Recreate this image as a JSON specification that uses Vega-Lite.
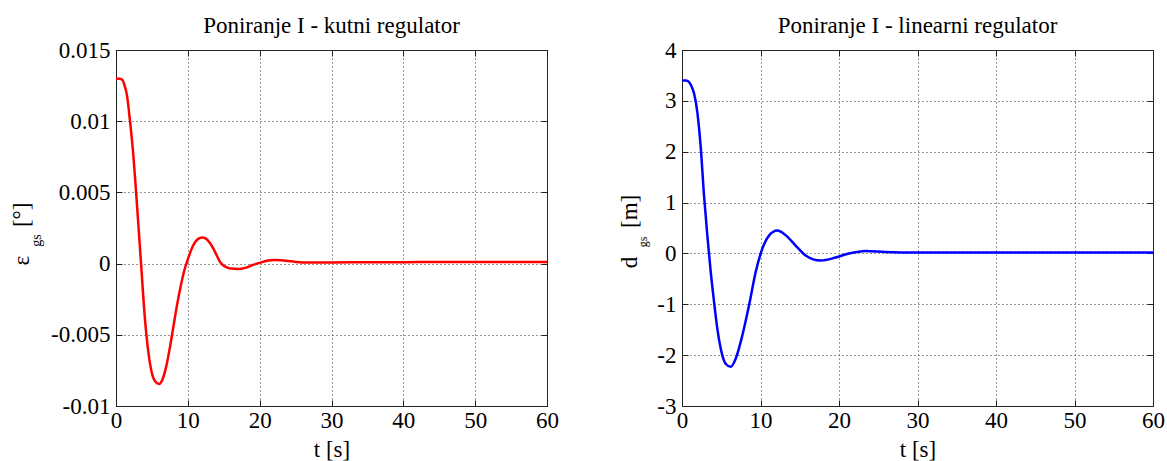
{
  "$schema": "https://vega.github.io/schema/vega-lite/v6.json",
  "autosize": {"type": "pad"},
  "padding": {"left": 10, "top": 14, "right": 5, "bottom": 5},
  "background": "white",
  "bounds": "flush",
  "spacing": 135,
  "config": {
    "font": "Liberation Serif",
    "view": {"stroke": "#222", "strokeWidth": 1},
    "axis": {
      "labelFont": "Liberation Serif", "labelFontSize": 23, "labelColor": "#000",
      "titleFont": "Liberation Serif", "titleFontSize": 23, "titleFontWeight": "normal", "titleColor": "#000",
      "domainColor": "#222", "tickColor": "#222", "tickSize": -6, "labelFlush": false,
      "gridColor": "#333", "gridDash": [1, 3], "gridOpacity": 1, "gridWidth": 1
    },
    "axisX": {"labelPadding": 9.5, "labelFlush": false},
    "axisY": {"labelPadding": 12, "labelFlush": false},
    "title": {"font": "Liberation Serif", "fontSize": 23, "fontWeight": "normal", "color": "#000", "frame": "group", "baseline": "alphabetic", "offset": 1}
  },
  "hconcat": [
    {
      "title": "Poniranje I - kutni regulator",
      "width": 431, "height": 356,
      "data": {"values": [
        {"t": 0, "v": 0.0130}, {"t": 0.5, "v": 0.01298}, {"t": 0.9, "v": 0.0129}, {"t": 1.2, "v": 0.0125},
        {"t": 1.5, "v": 0.0119}, {"t": 1.95, "v": 0.0100}, {"t": 2.4, "v": 0.0077}, {"t": 2.8, "v": 0.0050},
        {"t": 3.2, "v": 0.0021}, {"t": 3.5, "v": -0.0001}, {"t": 4, "v": -0.0037}, {"t": 4.5, "v": -0.0062},
        {"t": 5, "v": -0.0077}, {"t": 5.5, "v": -0.0083}, {"t": 6, "v": -0.00845}, {"t": 6.5, "v": -0.0081},
        {"t": 7, "v": -0.0072}, {"t": 7.5, "v": -0.0059}, {"t": 8, "v": -0.0044}, {"t": 8.5, "v": -0.0029},
        {"t": 9, "v": -0.0016}, {"t": 9.5, "v": -0.0005}, {"t": 10, "v": 0.0003}, {"t": 10.5, "v": 0.0010},
        {"t": 11, "v": 0.0015}, {"t": 11.5, "v": 0.00175}, {"t": 12, "v": 0.00183}, {"t": 12.5, "v": 0.00175},
        {"t": 13, "v": 0.0015}, {"t": 13.5, "v": 0.0011}, {"t": 14, "v": 0.0006}, {"t": 14.5, "v": 0.0001},
        {"t": 15, "v": -0.00015}, {"t": 15.5, "v": -0.00028}, {"t": 16, "v": -0.00035}, {"t": 17, "v": -0.00038},
        {"t": 18, "v": -0.0003}, {"t": 19, "v": -0.0001}, {"t": 20, "v": 0.00005}, {"t": 21, "v": 0.0002},
        {"t": 22, "v": 0.00026}, {"t": 23, "v": 0.00024}, {"t": 24, "v": 0.00018}, {"t": 25, "v": 0.00012},
        {"t": 27, "v": 0.00008}, {"t": 30, "v": 0.00008}, {"t": 35, "v": 0.0001}, {"t": 40, "v": 0.0001},
        {"t": 45, "v": 0.00012}, {"t": 50, "v": 0.00012}, {"t": 55, "v": 0.00012}, {"t": 60, "v": 0.00012}
      ]},
      "resolve": {"axis": {"x": "independent", "y": "independent"}},
      "layer": [
        {
          "mark": {"type": "line", "color": "#ff0000", "strokeWidth": 2.5, "interpolate": "monotone", "clip": true},
          "encoding": {
            "x": {"field": "t", "type": "quantitative", "scale": {"domain": [0, 60], "nice": false},
                  "axis": {"values": [0, 10, 20, 30, 40, 50, 60], "title": "t [s]", "titleY": 43, "titleBaseline": "middle", "grid": true, "labelFlush": false, "labelExpr": "'' + datum.value"}},
            "y": {"field": "v", "type": "quantitative", "scale": {"domain": [-0.01, 0.015], "nice": false, "zero": false},
                  "axis": {"values": [-0.01, -0.005, 0, 0.005, 0.01, 0.015], "title": "ε\u00a0\u00a0\u00a0\u00a0\u00a0[°]", "titleX": -94.5, "titleY": 183.5, "titleBaseline": "middle", "titleAlign": "center", "grid": true, "labelFlush": false, "labelExpr": "'' + datum.value"}}
          }
        },
        {
          "mark": {"type": "line", "opacity": 0},
          "encoding": {
            "x": {"field": "t", "type": "quantitative", "axis": {"orient": "top", "values": [0, 10, 20, 30, 40, 50, 60], "labels": false, "title": null, "grid": false, "domain": false}},
            "y": {"field": "v", "type": "quantitative", "axis": {"orient": "right", "values": [-0.01, -0.005, 0, 0.005, 0.01, 0.015], "labels": false, "title": null, "grid": false, "domain": false}}
          }
        },
        {
          "mark": {"type": "line", "opacity": 0},
          "encoding": {
            "x": {"field": "t", "type": "quantitative", "axis": null},
            "y": {"field": "v", "type": "quantitative", "axis": {"orient": "left", "labels": false, "ticks": false, "grid": false, "domain": false, "title": "gs", "titleFontSize": 14, "titleX": -75.5, "titleY": 190, "titleBaseline": "alphabetic", "titleAlign": "center"}}
          }
        }
      ]
    },
    {
      "title": "Poniranje I - linearni regulator",
      "width": 471, "height": 356,
      "data": {"values": [
        {"t": 0, "v": 3.40}, {"t": 0.5, "v": 3.40}, {"t": 0.9, "v": 3.37}, {"t": 1.2, "v": 3.29},
        {"t": 1.53, "v": 3.15}, {"t": 1.95, "v": 2.78}, {"t": 2.38, "v": 2.1}, {"t": 2.8, "v": 1.15},
        {"t": 3.23, "v": 0.35}, {"t": 3.65, "v": -0.35}, {"t": 4.08, "v": -0.95}, {"t": 4.5, "v": -1.48},
        {"t": 4.93, "v": -1.87}, {"t": 5.56, "v": -2.17}, {"t": 6.2, "v": -2.23}, {"t": 6.84, "v": -2.07},
        {"t": 7.69, "v": -1.61}, {"t": 8.54, "v": -1.02}, {"t": 9.38, "v": -0.37}, {"t": 10.2, "v": 0.08},
        {"t": 11.08, "v": 0.35}, {"t": 12.14, "v": 0.45}, {"t": 13.2, "v": 0.36}, {"t": 14.5, "v": 0.15},
        {"t": 15.75, "v": -0.04}, {"t": 17.67, "v": -0.14}, {"t": 19.58, "v": -0.08}, {"t": 21.27, "v": 0.0},
        {"t": 23.4, "v": 0.05}, {"t": 25.9, "v": 0.03}, {"t": 30, "v": 0.02}, {"t": 40, "v": 0.02},
        {"t": 50, "v": 0.02}, {"t": 60, "v": 0.02}
      ]},
      "resolve": {"axis": {"x": "independent", "y": "independent"}},
      "layer": [
        {
          "mark": {"type": "line", "color": "#0000ff", "strokeWidth": 2.5, "interpolate": "monotone", "clip": true},
          "encoding": {
            "x": {"field": "t", "type": "quantitative", "scale": {"domain": [0, 60], "nice": false},
                  "axis": {"values": [0, 10, 20, 30, 40, 50, 60], "title": "t [s]", "titleY": 43, "titleBaseline": "middle", "grid": true, "labelFlush": false, "labelExpr": "'' + datum.value"}},
            "y": {"field": "v", "type": "quantitative", "scale": {"domain": [-3, 4], "nice": false, "zero": false},
                  "axis": {"values": [-3, -2, -1, 0, 1, 2, 3, 4], "title": "d\u00a0\u00a0\u00a0\u00a0\u00a0[m]", "titleX": -53, "titleY": 181, "titleBaseline": "middle", "titleAlign": "center", "grid": true, "labelFlush": false, "labelExpr": "'' + datum.value"}}
          }
        },
        {
          "mark": {"type": "line", "opacity": 0},
          "encoding": {
            "x": {"field": "t", "type": "quantitative", "axis": {"orient": "top", "values": [0, 10, 20, 30, 40, 50, 60], "labels": false, "title": null, "grid": false, "domain": false}},
            "y": {"field": "v", "type": "quantitative", "axis": {"orient": "right", "values": [-3, -2, -1, 0, 1, 2, 3, 4], "labels": false, "title": null, "grid": false, "domain": false}}
          }
        },
        {
          "mark": {"type": "line", "opacity": 0},
          "encoding": {
            "x": {"field": "t", "type": "quantitative", "axis": null},
            "y": {"field": "v", "type": "quantitative", "axis": {"orient": "left", "labels": false, "ticks": false, "grid": false, "domain": false, "title": "gs", "titleFontSize": 12, "titleX": -36, "titleY": 191.5, "titleBaseline": "alphabetic", "titleAlign": "center"}}
          }
        }
      ]
    }
  ]
}
